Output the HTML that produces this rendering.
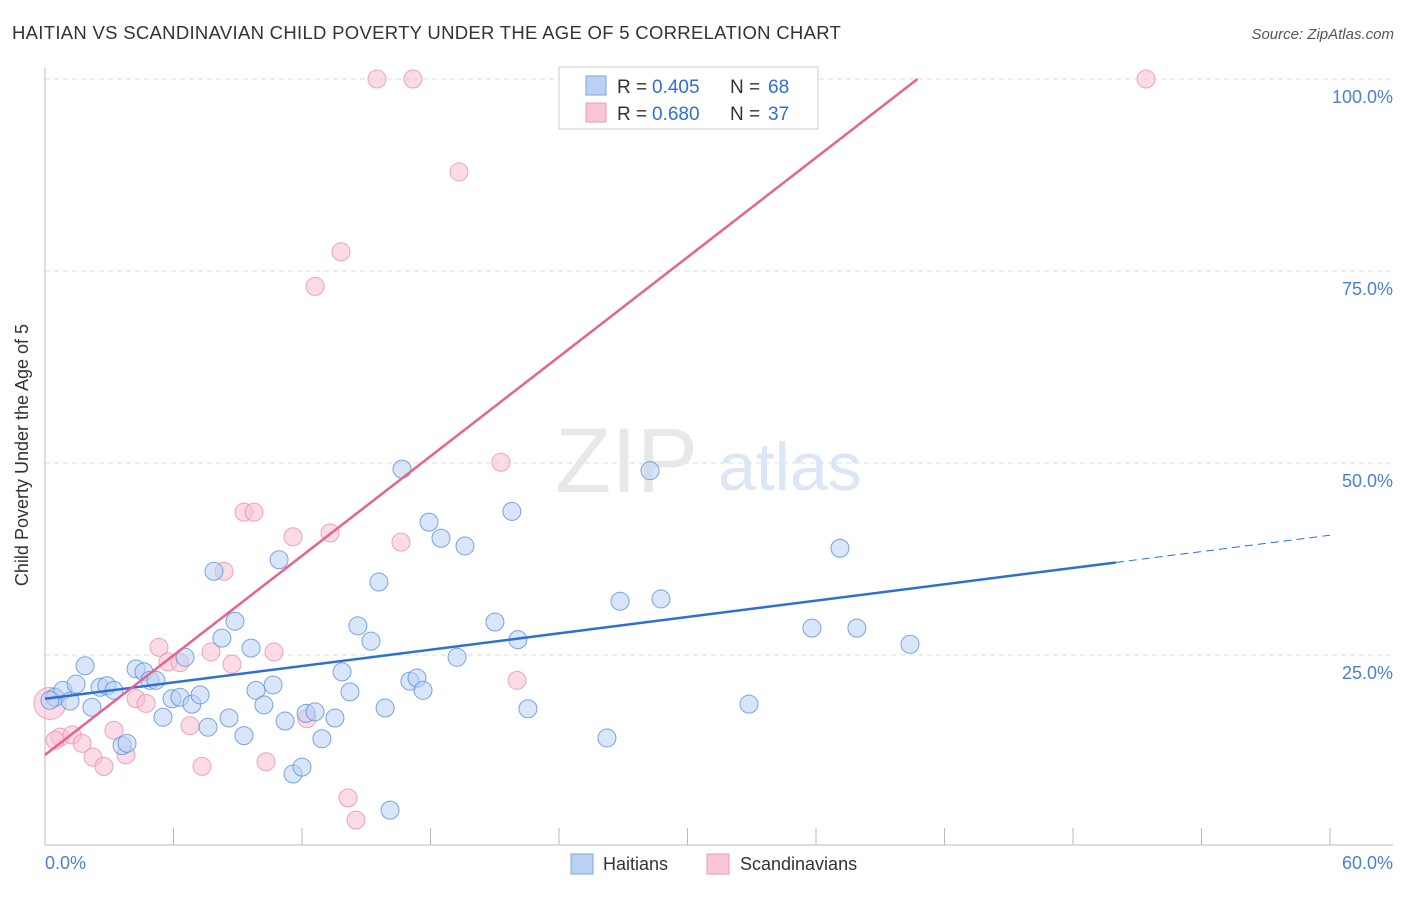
<!DOCTYPE html>
<html><head><meta charset="utf-8"><style>
body{margin:0;background:#fff;font-family:"Liberation Sans",sans-serif;}
svg text{font-family:"Liberation Sans",sans-serif;}
</style></head><body>
<svg width="1406" height="892">
<text x="12" y="39" font-size="18.5" letter-spacing="0.3" fill="#333">HAITIAN VS SCANDINAVIAN CHILD POVERTY UNDER THE AGE OF 5 CORRELATION CHART</text>
<text x="1394" y="39" font-size="15" fill="#555" text-anchor="end" font-style="italic">Source: ZipAtlas.com</text>
<g id="grid"></g>
<text x="555" y="492" font-size="92" fill="#e8e8e8" font-family="Liberation Serif">ZIP</text>
<text x="718" y="490" font-size="68" fill="#dbe6f6">atlas</text>
<g id="axes"></g>
<g id="marks"></g>
<g id="lines"></g>
<text x="28" y="455" font-size="18" fill="#333" text-anchor="middle" transform="rotate(-90 28 455)">Child Poverty Under the Age of 5</text>
<text x="45" y="869" font-size="18" fill="#4a7fd8">0.0%</text>
<text x="1393" y="869" font-size="18" fill="#4a7fd8" text-anchor="end">60.0%</text>
<g>
<rect x="559" y="67" width="259" height="62" fill="#fff" stroke="#ccc"/>
<rect x="586" y="76" width="20" height="19" fill="#b9d2f4" stroke="#7ea6e0"/>
<rect x="586" y="103" width="20" height="19" fill="#f8c6d6" stroke="#eb9ab4"/>
<text x="617" y="93" font-size="19" fill="#333">R =</text>
<text x="652" y="93" font-size="19" fill="#2d6fd6">0.405</text>
<text x="730" y="93" font-size="19" fill="#333">N =</text>
<text x="768" y="93" font-size="19" fill="#2d6fd6">68</text>
<text x="617" y="120" font-size="19" fill="#333">R =</text>
<text x="652" y="120" font-size="19" fill="#2d6fd6">0.680</text>
<text x="730" y="120" font-size="19" fill="#333">N =</text>
<text x="768" y="120" font-size="19" fill="#2d6fd6">37</text>
</g>
<g>
<rect x="571" y="854" width="22" height="20" fill="#b9d2f4" stroke="#7ea6e0"/>
<text x="603" y="870" font-size="18" fill="#333">Haitians</text>
<rect x="707" y="854" width="22" height="20" fill="#f8c6d6" stroke="#eb9ab4"/>
<text x="740" y="870" font-size="18" fill="#333">Scandinavians</text>
</g>
</svg>
<script>
const yTicks=[25,50,75,100];
const yTickLabels=["25.0%","50.0%","75.0%","100.0%"];
const blueX=[0.47,0.84,1.17,1.45,1.87,2.19,2.57,2.89,3.22,3.60,3.83,4.25,4.62,4.90,5.18,5.51,5.93,6.30,6.54,6.86,7.24,7.61,7.89,8.26,8.59,8.87,9.29,9.62,9.85,10.22,10.65,10.93,11.21,11.58,12.00,12.19,12.61,12.93,13.54,13.87,14.24,14.61,15.22,15.59,15.88,16.11,16.67,17.04,17.37,17.65,17.93,18.49,19.24,19.61,21.01,21.80,22.08,22.55,26.24,26.85,28.25,28.76,32.87,35.81,37.12,37.91,40.39,0.23];
const blueY=[19.5,20.4,19.0,21.2,23.6,18.2,20.8,21.0,20.4,13.2,13.5,23.2,22.8,21.7,21.7,16.9,19.3,19.5,24.7,18.6,19.8,15.6,35.9,27.2,16.8,29.4,14.5,25.9,20.4,18.5,21.1,37.4,16.4,9.5,10.4,17.4,17.6,14.1,16.8,22.8,20.2,28.8,26.8,34.5,18.1,4.8,49.2,21.6,22.0,20.4,42.3,40.2,24.7,39.2,29.3,43.7,27.0,18.0,14.2,32.0,49.0,32.3,18.6,28.5,38.9,28.5,26.4,19.1];
const pinkX=[0.23,0.70,1.26,1.73,2.24,2.75,3.22,3.78,4.25,4.72,5.32,5.74,6.30,6.77,7.33,7.75,8.73,9.29,9.76,8.36,10.32,10.69,11.58,12.23,12.61,13.31,13.82,14.15,14.52,15.50,16.62,17.18,19.33,21.29,22.04,51.41,0.47];
const pinkY=[18.7,14.3,14.6,13.5,11.7,10.5,15.2,12.0,19.3,18.7,26.0,24.1,24.0,15.8,10.5,25.4,23.8,43.6,43.6,35.9,11.1,25.4,40.4,16.7,73.0,40.9,77.5,6.4,3.5,100,39.7,100,87.9,50.1,21.7,100,13.9];
const blueLine=[19.3,0.355];
const pinkLine=[12.0,2.16];
const X0=45,X1=1330,Y0=847,Y1=79;
const sx=v=>X0+v/60*(X1-X0), sy=v=>Y0-v/100*(Y0-Y1);
const NS="http://www.w3.org/2000/svg";
function mk(t,a,p){const e=document.createElementNS(NS,t);for(const k in a)e.setAttribute(k,a[k]);p.appendChild(e);return e;}
const grid=document.getElementById('grid'),axes=document.getElementById('axes'),marks=document.getElementById('marks'),lines=document.getElementById('lines');
yTicks.forEach((t,i)=>{
 const g=mk('line',{x1:45,x2:1393,y1:sy(t),y2:sy(t),stroke:'#ddd','stroke-dasharray':'5,4'},grid);
 
 
 const l=mk('text',{x:1393,y:sy(t)+24,'font-size':18,fill:'#4a7fd8','text-anchor':'end'},axes);
 l.textContent=yTickLabels[i];
 
 
});
const ya=mk('line',{x1:45,x2:45,y1:68,y2:845,stroke:'#bbb'},axes);


const xa=mk('line',{x1:45,x2:1393,y1:845,y2:845,stroke:'#bbb'},axes);


for(let i=0;i<=10;i++){const t=mk('line',{x1:sx(i*6),x2:sx(i*6),y1:828,y2:845,stroke:'#bbb'},axes);
 
 }
function pts(xs,ys,fill,stroke,name){xs.forEach((x,i)=>{
 const r=(name==='scandinavian-point'&&i===0)?16:9;
 const c=mk('circle',{cx:sx(x),cy:sy(ys[i]),r:r,fill:fill,'fill-opacity':0.55,stroke:stroke,'stroke-opacity':0.8,'stroke-width':1},marks);
 
 });}
pts(pinkX,pinkY,'#f8c0d2','#eb8fae','scandinavian-point');
pts(blueX,blueY,'#b9d2f4','#5a8fdc','haitian-point');
const bl=mk('line',{x1:sx(0),y1:sy(blueLine[0]),x2:sx(50),y2:sy(blueLine[0]+blueLine[1]*50),stroke:'#2d6fd6','stroke-width':2.5},lines);


const bd=mk('line',{x1:sx(50),y1:sy(blueLine[0]+blueLine[1]*50),x2:sx(60),y2:sy(blueLine[0]+blueLine[1]*60),stroke:'#2d6fd6','stroke-width':1,'stroke-dasharray':'8,5'},lines);


const xe=(100-pinkLine[0])/pinkLine[1];
const pl=mk('line',{x1:sx(0),y1:sy(pinkLine[0]),x2:sx(xe),y2:sy(100),stroke:'#e8618f','stroke-width':2.5},lines);


</script>
</body></html>
